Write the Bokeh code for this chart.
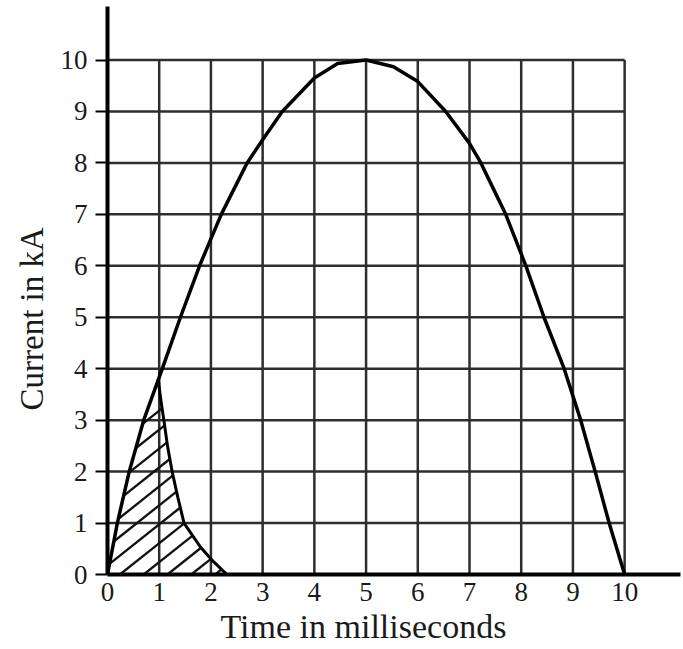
import math
from bokeh.plotting import figure
from bokeh.models import Range1d, FixedTicker, Title
from bokeh.embed import file_html
from bokeh.resources import INLINE

# ---- data ----
ticks = list(range(0, 11))
tick_labels = [str(t) for t in ticks]

# main current curve (time in ms, current in kA)
curve_t = [0, 0.19, 0.42, 0.7, 1.06, 1.41, 1.78, 2.2, 2.7, 3.0, 3.38, 4.0, 4.45,
           5.0, 5.53, 6.0, 6.54, 7.0, 7.22, 7.46, 7.7, 8.09, 8.44, 8.83, 9.15,
           9.43, 9.7, 10.0]
curve_i = [0, 1.0, 2.0, 3.0, 4.0, 5.0, 6.0, 7.0, 8.0, 8.45, 9.0, 9.65, 9.93,
           10.0, 9.87, 9.58, 9.0, 8.38, 8.0, 7.5, 7.0, 6.0, 5.0, 4.0, 3.0,
           2.0, 1.0, 0.0]

# hatched region: rising edge along main curve, then decaying tail
hatch_t = [0, 0.19, 0.42, 0.7, 0.98, 1.03, 1.09, 1.16, 1.25, 1.36, 1.48, 1.8, 2.05, 2.31]
hatch_i = [0, 1.0, 2.0, 3.0, 3.8, 3.4, 3.0, 2.5, 2.0, 1.5, 1.0, 0.53, 0.25, 0.0]

# decaying tail (the right edge of the hatched area)
tail_t = hatch_t[4:]
tail_i = hatch_i[4:]

x_title = "Time in milliseconds"
y_title = "Current in kA"

FONT = "Liberation Serif"
INK = "#1a1a1a"

p = figure(width=683, height=649, output_backend="svg", toolbar_location=None,
           x_range=Range1d(0, 11.08), y_range=Range1d(0, 11.04),
           min_border_left=107, min_border_right=3, min_border_top=6,
           min_border_bottom=75)
p.outline_line_color = None
p.grid.visible = False

# grid lines only inside the 0..10 box
gmax = ticks[-1]
inner = ticks[1:]
p.segment(x0=inner, y0=[0] * len(inner), x1=inner, y1=[gmax] * len(inner),
          line_color="#2e2e2e", line_width=2.5)
p.segment(x0=[0] * len(inner), y0=inner, x1=[gmax] * len(inner), y1=inner,
          line_color="#2e2e2e", line_width=2.5)

# ---- diagonal hatching clipped to the hatched polygon ----
HATCH_SLOPE = 0.8
HATCH_STEP = 0.46


def clip_line(px, py, slope, c):
    """x-intervals where y = slope*(x-c) lies inside polygon (even-odd)."""
    xs = []
    n = len(px)
    for k in range(n):
        x1, y1 = px[k], py[k]
        x2, y2 = px[(k + 1) % n], py[(k + 1) % n]
        f1 = y1 - slope * (x1 - c)
        f2 = y2 - slope * (x2 - c)
        if (f1 > 0) != (f2 > 0):
            t = f1 / (f1 - f2)
            xs.append(x1 + t * (x2 - x1))
    xs.sort()
    return [(xs[j], xs[j + 1]) for j in range(0, len(xs) - 1, 2)]


hx0, hy0, hx1, hy1 = [], [], [], []
for k in range(-8, 8):
    c = 0.70 + k * HATCH_STEP
    for a, b in clip_line(hatch_t, hatch_i, HATCH_SLOPE, c):
        hx0.append(a)
        hy0.append(HATCH_SLOPE * (a - c))
        hx1.append(b)
        hy1.append(HATCH_SLOPE * (b - c))
p.segment(x0=hx0, y0=hy0, x1=hx1, y1=hy1, line_color="#111111", line_width=2.3)

p.line(tail_t, tail_i, line_color="black", line_width=3)

# main curve
p.line(curve_t, curve_i, line_color="black", line_width=3.5)

# axes
for ax in (p.xaxis[0], p.yaxis[0]):
    ax.ticker = FixedTicker(ticks=ticks)
    ax.major_label_overrides = {t: s for t, s in zip(ticks, tick_labels)}
    ax.axis_line_width = 4
    ax.axis_line_color = "black"
    ax.minor_tick_line_color = None
    ax.major_label_text_font = FONT
    ax.major_label_text_font_size = "27px"
    ax.major_label_text_color = INK

p.yaxis.major_tick_out = 12
p.yaxis.major_tick_in = 0
p.yaxis.major_tick_line_width = 2
p.yaxis.major_tick_line_color = "black"
p.yaxis.major_label_standoff = 8

p.xaxis.major_tick_out = 0
p.xaxis.major_tick_in = 0
p.xaxis.major_tick_line_color = None
p.xaxis.major_label_standoff = 8

# axis titles
p.add_layout(Title(text=x_title, align="left", offset=113, standoff=4,
                   text_font=FONT, text_font_size="34px", text_font_style="normal",
                   text_color=INK), "below")
p.add_layout(Title(text=y_title, align="left", offset=164, standoff=12,
                   vertical_align="top",
                   text_font=FONT, text_font_size="33px", text_font_style="normal",
                   text_color=INK), "left")

open("out.html", "w").write(file_html(p, INLINE))
